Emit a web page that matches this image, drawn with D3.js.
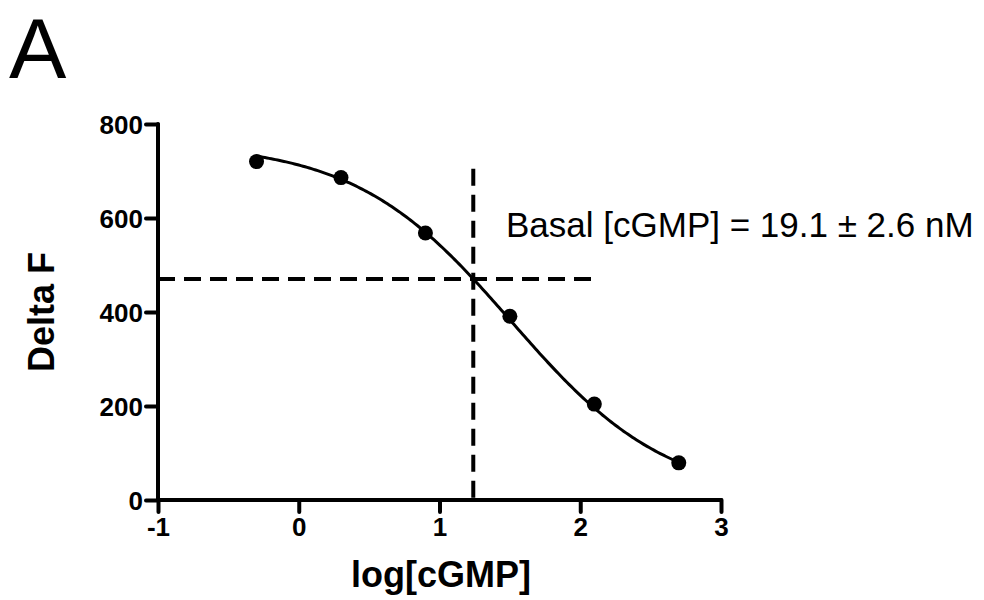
<!DOCTYPE html>
<html>
<head>
<meta charset="utf-8">
<script src="https://cdn.jsdelivr.net/npm/d3@7/dist/d3.min.js"></script>
<style>
  html, body { margin: 0; padding: 0; background: #fff; }
  svg { display: block; font-family: Arial, "Liberation Sans", Helvetica, sans-serif; }
</style>
</head>
<body>
<svg id="chart" width="984" height="600"></svg>
<script>
// Measured points: log[cGMP] vs. Delta F
const logConc = [-0.3, 0.3, 0.9, 1.5, 2.1, 2.7];
const deltaF  = [720, 686, 568, 391, 204, 79];

// Sigmoidal dose-response fit: top, bottom, logEC50, Hill slope
const fitTop = 760;
const fitBottom = 0;
const fitLogEC50 = 1.51;
const fitHill = 0.78;

// Basal reading and its projection onto the fitted curve
const basalLogConc = 1.24;
const basalDeltaF = 470;
const basalLineTop = 705;   // top of the vertical guide (Delta F units)
const basalLineEnd = 2.1;   // right end of the horizontal guide (log units)

const xTicks = [-1, 0, 1, 2, 3];
const xTickLabels = ["-1", "0", "1", "2", "3"];
const yTicks = [0, 200, 400, 600, 800];
const yTickLabels = ["0", "200", "400", "600", "800"];
const annotation = "Basal [cGMP] = 19.1 \u00B1 2.6 nM";

const svg = d3.select("#chart");

const x = d3.scaleLinear().domain([-1, 3]).range([158, 721]);
const y = d3.scaleLinear().domain([0, 800]).range([500, 124]);

const fit = v => fitBottom + (fitTop - fitBottom) / (1 + Math.pow(10, fitHill * (v - fitLogEC50)));

// Panel letter
svg.append("text")
  .attr("x", 9).attr("y", 78)
  .attr("font-size", 86)
  .attr("fill", "#000")
  .text("A");

// Axes
const xAxis = d3.axisBottom(x).tickValues(xTicks).tickSize(12).tickPadding(6)
  .tickFormat((d, i) => xTickLabels[i]);
const yAxis = d3.axisLeft(y).tickValues(yTicks).tickSize(12).tickPadding(3)
  .tickFormat((d, i) => yTickLabels[i]);

const gx = svg.append("g").attr("transform", "translate(0,500)").call(xAxis);
const gy = svg.append("g").attr("transform", "translate(158,0)").call(yAxis);

[gx, gy].forEach(g => {
  g.select(".domain").remove();
  g.selectAll(".tick line").attr("stroke", "#000").attr("stroke-width", 4)
    .attr("stroke-linecap", "round");
  g.selectAll(".tick text").attr("fill", "#000").attr("font-size", 26)
    .attr("font-weight", "bold").attr("font-family", "Arial, 'Liberation Sans', sans-serif");
});
gy.selectAll(".tick text").attr("dy", "0.36em");

// Axis spines
svg.append("line")
  .attr("x1", x(-1)).attr("x2", x(3))
  .attr("y1", y(0)).attr("y2", y(0))
  .attr("stroke", "#000").attr("stroke-width", 4).attr("stroke-linecap", "round");
svg.append("line")
  .attr("x1", x(-1)).attr("x2", x(-1))
  .attr("y1", y(800)).attr("y2", y(0))
  .attr("stroke", "#000").attr("stroke-width", 4).attr("stroke-linecap", "round");

// Axis titles
svg.append("text")
  .attr("x", 441).attr("y", 587)
  .attr("text-anchor", "middle")
  .attr("font-size", 36).attr("font-weight", "bold")
  .text("log[cGMP]");
svg.append("text")
  .attr("transform", "translate(54,312) rotate(-90)")
  .attr("text-anchor", "middle")
  .attr("font-size", 36).attr("font-weight", "bold")
  .text("Delta F");

// Basal guides
svg.append("line")
  .attr("x1", x(basalLogConc)).attr("x2", x(basalLogConc))
  .attr("y1", y(basalLineTop)).attr("y2", y(0))
  .attr("stroke", "#000").attr("stroke-width", 4)
  .attr("stroke-dasharray", "17,9");
svg.append("line")
  .attr("x1", x(-1)).attr("x2", x(basalLineEnd))
  .attr("y1", y(basalDeltaF)).attr("y2", y(basalDeltaF))
  .attr("stroke", "#000").attr("stroke-width", 4)
  .attr("stroke-dasharray", "17,9");

// Fitted curve across the measured range
const xs = d3.range(0, 201).map(i => logConc[0] + (logConc[logConc.length - 1] - logConc[0]) * i / 200);
svg.append("path")
  .datum(xs)
  .attr("fill", "none")
  .attr("stroke", "#000")
  .attr("stroke-width", 3)
  .attr("d", d3.line().x(d => x(d)).y(d => y(fit(d))));

// Data points
svg.append("g").selectAll("circle")
  .data(logConc.map((v, i) => [v, deltaF[i]]))
  .join("circle")
  .attr("cx", d => x(d[0]))
  .attr("cy", d => y(d[1]))
  .attr("r", 7.5)
  .attr("fill", "#000");

// Annotation
svg.append("text")
  .attr("x", 506).attr("y", 237)
  .attr("font-size", 35)
  .attr("fill", "#000")
  .text(annotation);
</script>
</body>
</html>
